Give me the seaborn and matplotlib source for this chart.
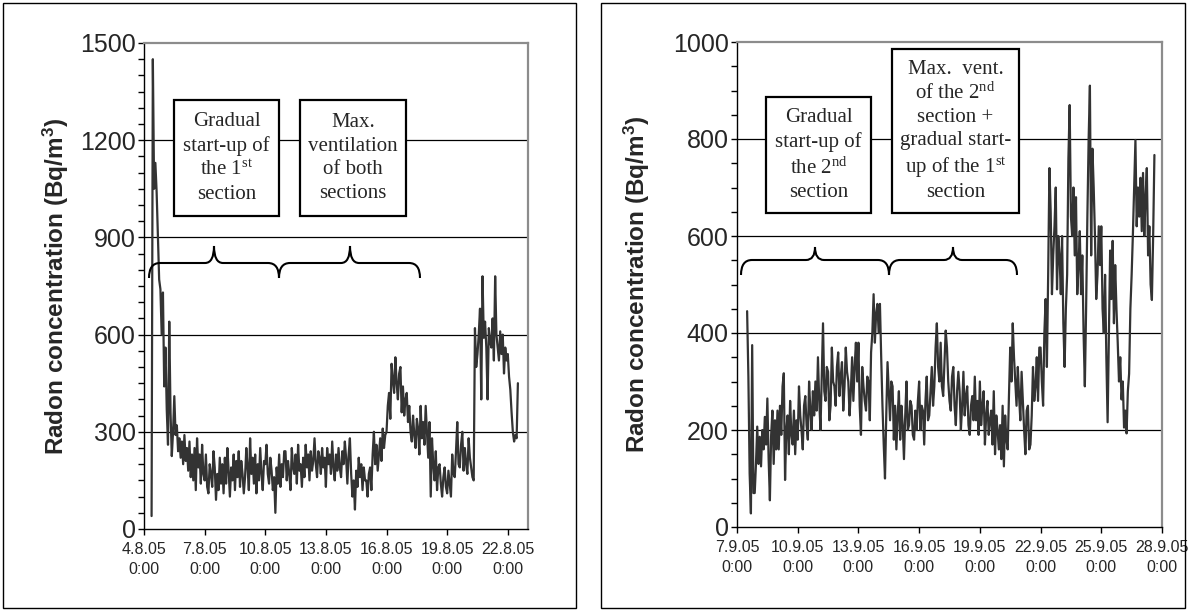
import numpy as np
import pandas as pd
import matplotlib
matplotlib.use("Agg")
import matplotlib.pyplot as plt
from matplotlib.patches import Rectangle, PathPatch
from matplotlib.path import Path
from matplotlib.ticker import MultipleLocator, NullLocator
import seaborn as sns

# ---------------- data (readings every 1.5 h) ----------------
left_start = "2005-08-04 09:00"
left_values = [
    40, 1450, 1050, 1130, 1040, 900, 770, 740, 600, 730,
    440, 560, 370, 260, 640, 360, 225, 300, 410, 290, 320, 240, 280, 220, 270, 200,
    290, 210, 250, 180, 270, 160, 230, 150, 250, 120, 280, 190, 230, 140, 260, 170,
    150, 230, 130, 110, 200, 170, 130, 240, 190, 90, 170, 120, 220, 140, 200, 110,
    220, 140, 250, 180, 100, 190, 150, 230, 120, 210, 160, 240, 130, 210, 170, 110,
    160, 250, 190, 120, 280, 170, 220, 140, 230, 110, 200, 150, 250, 170, 120, 210,
    200, 260, 170, 140, 220, 180, 120, 160, 50, 190, 140, 230, 130, 200, 160, 240,
    240, 150, 210, 170, 120, 250, 190, 170, 230, 140, 260, 180, 200, 130, 220, 160,
    260, 190, 230, 150, 240, 180, 210, 280, 200, 160, 240, 220, 170, 250, 190, 220,
    130, 250, 200, 230, 170, 270, 190, 150, 230, 180, 250, 190, 160, 240, 200, 270,
    220, 140, 230, 280, 170, 100, 150, 60, 180, 130, 220, 160, 200, 120, 190, 150,
    150, 100, 170, 190, 120, 230, 300, 200, 260, 180, 230, 280, 210, 310, 250, 290,
    300, 380, 420, 340, 510, 460, 420, 530, 450, 400, 480, 500, 360, 440, 350, 400,
    420, 330, 380, 300, 270, 350, 290, 250, 340, 310, 230, 380, 280, 330, 260, 380,
    300, 220, 330, 100, 280, 200, 150, 240, 120, 190, 200, 140, 100, 160, 190, 130,
    110, 180, 140, 100, 230, 170, 160, 240, 330, 200, 190, 260, 300, 180, 250, 200,
    170, 280, 220, 190, 160, 150, 620, 500, 540, 600, 680, 400, 780, 590, 640, 560,
    400, 620, 580, 560, 650, 520, 780, 600, 560, 520, 610, 540, 600, 480, 560, 520,
    540, 470, 430, 360, 300, 270, 290, 280, 450,
]
left_xlim = ["2005-08-04 00:00", "2005-08-23 00:00"]
left_xtick_dates = ["2005-08-04", "2005-08-07", "2005-08-10", "2005-08-13",
                    "2005-08-16", "2005-08-19", "2005-08-22"]
left_xtick_labels = ["4.8.05\n0:00", "7.8.05\n0:00", "10.8.05\n0:00", "13.8.05\n0:00",
                     "16.8.05\n0:00", "19.8.05\n0:00", "22.8.05\n0:00"]
left_yticks = [0, 300, 600, 900, 1200, 1500]

right_start = "2005-09-07 12:00"
right_values = [
    445, 310, 110, 28, 375, 70, 70, 130,
    207, 130, 186, 125, 200, 160, 227, 170, 265, 140, 55, 190, 240, 130, 220, 160,
    240, 160, 250, 190, 290, 317, 97, 200, 230, 150, 260, 190, 170, 240, 150, 220,
    180, 290, 230, 200, 160, 250, 270, 210, 180, 300, 240, 200, 280, 230, 300, 240,
    350, 260, 200, 310, 420, 280, 260, 330, 320, 220, 250, 370, 300, 290, 250, 330,
    360, 270, 310, 340, 240, 290, 370, 320, 300, 230, 280, 350, 260, 330, 380, 300,
    380, 250, 190, 330, 290, 260, 240, 310, 300, 220, 360, 400, 480, 380, 440, 460,
    400, 460, 350, 250, 170, 100, 230, 340, 280, 220, 300, 290, 180, 250, 160, 230,
    280, 180, 250, 210, 140, 230, 300, 200, 210, 260, 250, 190, 180, 240, 200, 260,
    300, 200, 250, 240, 170, 260, 310, 220, 230, 280, 330, 250, 290, 370, 420, 330,
    300, 380, 290, 270, 340, 405, 370, 300, 260, 240, 310, 330, 250, 210, 280, 320,
    280, 200, 250, 320, 230, 270, 290, 210, 190, 250, 270, 220, 310, 220, 260, 190,
    300, 210, 250, 280, 170, 230, 260, 190, 220, 240, 170, 280, 150, 230, 200, 160,
    210, 140, 250, 125, 230, 180, 160, 270, 370, 300, 420, 350, 300, 250, 330, 270,
    220, 320, 260, 200, 150, 240, 250, 160, 170, 230, 330, 260, 290, 350, 260, 370,
    370, 300, 250, 400, 470, 330, 520, 740, 650, 480, 560, 620, 700, 490, 600, 560,
    480, 600, 420, 330, 450, 520, 760, 870, 640, 600, 700, 560, 680, 480, 540, 610,
    480, 560, 400, 290, 450, 640, 800, 910, 560, 780, 700, 600, 470, 520, 620, 540,
    620, 450, 400, 520, 350, 216, 400, 570, 470, 590, 420, 540, 450, 380, 300, 350,
    263, 300, 205, 240, 193, 280, 316, 450, 520, 605, 700, 798, 620, 700, 640, 720,
    610, 730, 600, 680, 740, 560, 620, 500, 468, 600, 767,
]
right_xlim = ["2005-09-07 00:00", "2005-09-28 00:00"]
right_xtick_dates = ["2005-09-07", "2005-09-10", "2005-09-13", "2005-09-16",
                     "2005-09-19", "2005-09-22", "2005-09-25", "2005-09-28"]
right_xtick_labels = ["7.9.05\n0:00", "10.9.05\n0:00", "13.9.05\n0:00", "16.9.05\n0:00",
                      "19.9.05\n0:00", "22.9.05\n0:00", "25.9.05\n0:00", "28.9.05\n0:00"]
right_yticks = [0, 200, 400, 600, 800, 1000]

y_label = "Radon concentration (Bq/$m^3$)"
left_box_texts = ["Gradual\nstart-up of\nthe $1^{st}$\nsection",
                  "Max.\nventilation\nof both\nsections"]
right_box_texts = ["Gradual\nstart-up of\nthe $2^{nd}$\nsection",
                   "Max.  vent.\nof the $2^{nd}$\nsection +\ngradual start-\nup of the $1^{st}$\nsection"]

# ---------------- style ----------------
sns.set_style("ticks")
plt.rcParams["font.family"] = ["Liberation Sans", "DejaVu Sans"]
plt.rcParams["mathtext.default"] = "regular"

W, H = 1189, 613
fig = plt.figure(figsize=(W / 100, H / 100), dpi=100)
fig.patch.set_facecolor("white")


def fx(px):
    return px / W


def fy(py):
    return 1 - py / H


def frame(x0, y0, x1, y1, lw=1.0, fill=False, zorder=1):
    r = Rectangle((fx(x0), fy(y1)), fx(x1) - fx(x0), fy(y0) - fy(y1),
                  transform=fig.transFigure, fill=fill, facecolor="white",
                  edgecolor="black", lw=lw, zorder=zorder)
    fig.add_artist(r)


def brace(x0, x1, xc, y_tip, y_flat, y_peak, r=11, rc=9):
    pts = [(x0, y_tip), (x0, y_flat), (x0 + r, y_flat),
           (xc - rc, y_flat),
           (xc, y_flat), (xc, y_peak),
           (xc, y_flat), (xc + rc, y_flat),
           (x1 - r, y_flat),
           (x1, y_flat), (x1, y_tip)]
    codes = [Path.MOVETO, Path.CURVE3, Path.CURVE3,
             Path.LINETO,
             Path.CURVE3, Path.CURVE3,
             Path.CURVE3, Path.CURVE3,
             Path.LINETO,
             Path.CURVE3, Path.CURVE3]
    verts = [(fx(a), fy(b)) for a, b in pts]
    p = PathPatch(Path(verts, codes), transform=fig.transFigure, fill=False,
                  edgecolor="black", lw=1.5, zorder=2)
    fig.add_artist(p)


def panel(rect, start, values, xlim, xtick_dates, xtick_labels, yticks, label_x):
    ax = fig.add_axes(rect)
    times = pd.date_range(start, periods=len(values), freq="90min")
    df = pd.DataFrame({"time": times, "radon": values})
    for v in yticks[1:-1]:
        ax.axhline(v, color="black", lw=0.9, zorder=0.5)
    sns.lineplot(data=df, x="time", y="radon", ax=ax, color="#333333",
                 linewidth=1.6, zorder=2)
    ax.set_xlim(pd.Timestamp(xlim[0]), pd.Timestamp(xlim[1]))
    ax.set_ylim(yticks[0], yticks[-1])
    ax.set_yticks(yticks)
    ax.set_yticklabels([str(v) for v in yticks])
    ax.yaxis.set_minor_locator(MultipleLocator(50))
    ax.set_xticks(pd.to_datetime(xtick_dates))
    ax.set_xticklabels(xtick_labels, fontsize=11.5, linespacing=1.45)
    ax.xaxis.set_minor_locator(NullLocator())
    ax.tick_params(axis="y", which="major", direction="out", length=4, width=1,
                   labelsize=18, pad=2, color="black")
    ax.tick_params(axis="y", which="minor", direction="out", length=4, width=1,
                   color="black")
    ax.tick_params(axis="x", which="major", direction="out", length=4, width=1,
                   pad=5, color="black")
    for s in ("left", "bottom"):
        ax.spines[s].set_color("black")
        ax.spines[s].set_linewidth(1.0)
    for s in ("top", "right"):
        ax.spines[s].set_color("#8c8c8c")
        ax.spines[s].set_linewidth(1.6)
    ax.set_xlabel("")
    ax.set_ylabel(y_label, fontsize=17.5, fontweight="bold")
    ax.yaxis.set_label_coords(label_x, 0.5)
    ax.set_facecolor("white")
    return ax


# panel frames
frame(3, 3, 576, 608)
frame(601, 3, 1185, 608)

axL = panel([fx(144), fy(529), fx(528) - fx(144), fy(43) - fy(529)],
            left_start, left_values, left_xlim, left_xtick_dates,
            left_xtick_labels, left_yticks, -0.19)
axR = panel([fx(737), fy(527), fx(1162) - fx(737), fy(42) - fy(527)],
            right_start, right_values, right_xlim, right_xtick_dates,
            right_xtick_labels, right_yticks, -0.20)

# annotation boxes
box_specs = [((174, 100, 279, 216), left_box_texts[0], 1.33),
             ((300, 100, 406, 216), left_box_texts[1], 1.33),
             ((766, 97, 871, 213), right_box_texts[0], 1.33),
             ((892, 49, 1019, 213), right_box_texts[1], 1.28)]
for (x0, y0, x1, y1), txt, ls in box_specs:
    frame(x0, y0, x1, y1, lw=1.6, fill=True, zorder=1.5)
    fig.text(fx((x0 + x1) / 2), fy((y0 + y1) / 2), txt, ha="center", va="center",
             fontsize=15, family="Liberation Serif", linespacing=ls, zorder=3)

# braces
brace(149, 279, 214, 278, 263, 246)
brace(279, 420, 350, 278, 263, 246)
brace(741, 889, 815, 275, 260, 247)
brace(889, 1017, 953, 275, 260, 247)

fig.savefig("out.png", dpi=100, facecolor="white")
